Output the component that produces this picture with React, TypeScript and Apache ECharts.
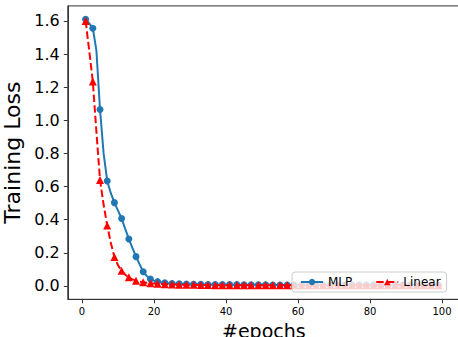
import React, { useEffect, useRef } from "react";
import * as echarts from "echarts";

const mlpLoss: number[] = [
  1.610, 1.585, 1.556, 1.420, 1.065, 0.800, 0.634, 0.560, 0.503, 0.455,
  0.407, 0.345, 0.284, 0.230, 0.177, 0.130, 0.086, 0.060, 0.042, 0.032,
  0.026, 0.022, 0.019, 0.017, 0.015, 0.014, 0.013, 0.012, 0.011, 0.011,
  0.010, 0.010, 0.010, 0.009, 0.009, 0.009, 0.009, 0.008, 0.008, 0.008,
  0.008, 0.008, 0.008, 0.007, 0.007, 0.007, 0.007, 0.007, 0.007, 0.007,
  0.007, 0.007, 0.006, 0.006, 0.006, 0.006, 0.006, 0.006, 0.006, 0.006,
  0.006, 0.006, 0.006, 0.006, 0.006, 0.006, 0.006, 0.006, 0.006, 0.006,
  0.006, 0.006, 0.006, 0.006, 0.006, 0.006, 0.006, 0.006, 0.006, 0.006,
  0.006, 0.006, 0.006, 0.006, 0.006, 0.006, 0.006, 0.006, 0.006, 0.006,
  0.006, 0.006, 0.006, 0.006, 0.006, 0.006, 0.006, 0.006, 0.006, 0.006,
];

const linearLoss: number[] = [
  1.600, 1.420, 1.234, 0.930, 0.640, 0.490, 0.365, 0.260, 0.175, 0.125,
  0.092, 0.068, 0.052, 0.040, 0.032, 0.026, 0.022, 0.019, 0.017, 0.015,
  0.013, 0.012, 0.011, 0.010, 0.009, 0.009, 0.008, 0.008, 0.007, 0.007,
  0.007, 0.006, 0.006, 0.006, 0.006, 0.005, 0.005, 0.005, 0.005, 0.005,
  0.005, 0.005, 0.004, 0.004, 0.004, 0.004, 0.004, 0.004, 0.004, 0.004,
  0.004, 0.004, 0.004, 0.004, 0.004, 0.004, 0.004, 0.004, 0.004, 0.004,
  0.004, 0.004, 0.004, 0.004, 0.004, 0.004, 0.004, 0.004, 0.004, 0.004,
  0.004, 0.004, 0.004, 0.004, 0.004, 0.004, 0.004, 0.004, 0.004, 0.004,
  0.004, 0.004, 0.004, 0.004, 0.004, 0.004, 0.004, 0.004, 0.004, 0.004,
  0.004, 0.004, 0.004, 0.004, 0.004, 0.004, 0.004, 0.004, 0.004, 0.004,
];

const xTicks: number[] = [0, 20, 40, 60, 80, 100];
const yTicks: number[] = [0, 0.2, 0.4, 0.6, 0.8, 1.0, 1.2, 1.4, 1.6];
const seriesNames: string[] = ["MLP", "Linear"];

const FONT = "DejaVu Sans";
const AXIS_COLOR = "#333";

function toData(values: number[], symbol: string) {
  return values.map((v, i) => ({
    value: [i + 1, v],
    symbol: i % 2 === 0 ? symbol : "none",
  }));
}

export default function App() {
  const ref = useRef<HTMLDivElement>(null);
  useEffect(() => {
    if (!ref.current) return;
    const chart = echarts.init(ref.current, null, { renderer: "svg" });
    chart.setOption({
      animation: false,
      backgroundColor: "#fff",
      grid: {
        left: 67.8,
        right: -1.8,
        top: 5.9,
        bottom: 37.7,
        containLabel: false,
        outerBoundsMode: "none",
        show: true,
        borderColor: AXIS_COLOR,
        borderWidth: 1,
        backgroundColor: "transparent",
      },
      legend: {
        left: 292,
        top: 272,
        padding: [4, 6, 4, 8],
        itemWidth: 22,
        itemHeight: 8,
        itemGap: 23,
        backgroundColor: "rgba(255,255,255,0.8)",
        borderColor: "#ccc",
        borderWidth: 1,
        borderRadius: 3,
        textStyle: { fontFamily: FONT, fontSize: 12, color: "#000" },
        data: seriesNames,
      },
      xAxis: {
        type: "value",
        min: -3.95,
        max: 104.95,
        name: "#epochs",
        nameLocation: "middle",
        nameGap: 16,
        nameTextStyle: { fontFamily: FONT, fontSize: 19, color: "#000" },
        axisLine: { show: true, onZero: false, lineStyle: { color: AXIS_COLOR, width: 1 } },
        axisTick: { show: true, length: 4, lineStyle: { color: AXIS_COLOR }, customValues: xTicks },
        axisLabel: {
          fontFamily: FONT,
          fontSize: 10,
          color: "#000",
          margin: 7,
          customValues: xTicks,
          formatter: (v: number) => String(v),
        },
        splitLine: { show: false },
      },
      yAxis: {
        type: "value",
        min: -0.0805,
        max: 1.6905,
        name: "Training Loss",
        nameLocation: "middle",
        nameRotate: 90,
        nameGap: 37,
        nameTextStyle: { fontFamily: FONT, fontSize: 22, color: "#000" },
        axisLine: { show: true, onZero: false, lineStyle: { color: AXIS_COLOR, width: 1 } },
        axisTick: { show: true, length: 4, lineStyle: { color: AXIS_COLOR }, customValues: yTicks },
        axisLabel: {
          fontFamily: FONT,
          fontSize: 16,
          color: "#000",
          margin: 8,
          customValues: yTicks,
          formatter: (v: number) => v.toFixed(1),
        },
        splitLine: { show: false },
      },
      series: [
        {
          name: seriesNames[0],
          type: "line",
          symbol: "circle",
          data: toData(mlpLoss, "circle"),
          showAllSymbol: true,
          symbolSize: 7,
          itemStyle: { color: "#1f77b4" },
          lineStyle: { color: "#1f77b4", width: 2 },
          clip: true,
          z: 2,
        },
        {
          name: seriesNames[1],
          type: "line",
          symbol: "triangle",
          data: toData(linearLoss, "triangle"),
          showAllSymbol: true,
          symbolSize: 8,
          itemStyle: { color: "#ff0000" },
          lineStyle: { color: "#ff0000", width: 2, type: [7.4, 3.2] },
          clip: true,
          z: 3,
        },
      ],
    });
    return () => chart.dispose();
  }, []);
  return (
    <div
      ref={ref}
      style={{ position: "absolute", left: 0, top: 0, width: 458, height: 337 }}
    />
  );
}
